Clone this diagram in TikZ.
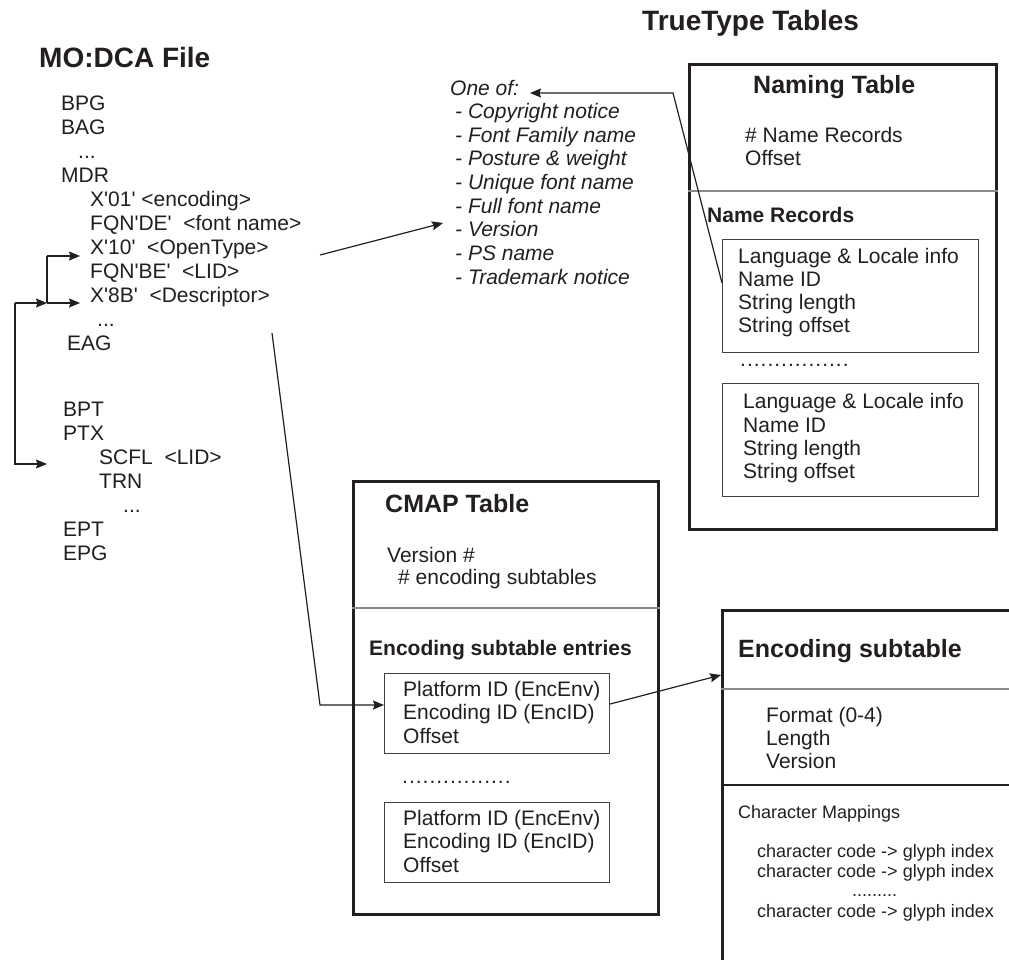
\documentclass[tikz,border=0pt]{standalone}
\usepackage{fontspec}
\newfontfamily\arial{Liberation Sans}
\usetikzlibrary{arrows.meta}
\definecolor{ink}{HTML}{231F20}
\definecolor{rule}{HTML}{8A8A8A}
\newcommand\spdot{.\kern1pt}
\newcommand\dotrow{\spdot\spdot\spdot\spdot\spdot\spdot\spdot\spdot\spdot\spdot\spdot\spdot\spdot\spdot\spdot.}
\begin{document}
\begin{tikzpicture}[x=1pt,y=-1pt,
  txt/.style={anchor=base west,inner sep=0pt,text=ink,font=\arial\fontsize{21}{25}\selectfont},
  ital/.style={txt,font=\arial\itshape\fontsize{21}{25}\selectfont},
  bigtitle/.style={txt,font=\arial\bfseries\fontsize{28}{32}\selectfont},
  tabtitle/.style={txt,font=\arial\bfseries\fontsize{25}{30}\selectfont},
  subhead/.style={txt,font=\arial\bfseries\fontsize{21}{25}\selectfont},
  smalltxt/.style={txt,font=\arial\fontsize{18}{21}\selectfont},
  outerbox/.style={draw=ink,line width=2.8pt,anchor=north west,inner sep=0pt},
  innerbox/.style={draw=ink!85,line width=1.1pt,anchor=north west,inner sep=0pt},
  divider/.style={draw=rule,line width=1.1pt},
  conn/.style={draw=ink,line width=1.2pt},
  arr/.style={conn,-{Stealth[length=11pt,width=9pt,inset=1.5pt]}}]
\useasboundingbox (0,0) rectangle (1009,959);
\fill[white] (0,0) rectangle (1009,959);
\clip (0,0) rectangle (1009,959);

% ---------------- MO:DCA file ----------------
\node[bigtitle] (t1) at (39,67) {MO:DCA File};
\node[txt] (bpg) at (61,110) {BPG};
\node[txt] (bag) at (61,134) {BAG};
\node[txt] (d1) at (78,158) {...};
\node[txt] (mdr) at (61,182) {MDR};
\node[txt] (x01) at (90,206) {X'01' <encoding>};
\node[txt] (fqnde) at (90,230) {FQN'DE'\ \ <font name>};
\node[txt] (x10) at (90,254) {X'10'\ \ <OpenType>};
\node[txt] (fqnbe) at (90,278) {FQN'BE'\ \ <LID>};
\node[txt] (x8b) at (90,302) {X'8B'\ \ <Descriptor>};
\node[txt] (d2) at (97,326) {...};
\node[txt] (eag) at (67,350) {EAG};
\node[txt] (bpt) at (63,416) {BPT};
\node[txt] (ptx) at (63,440) {PTX};
\node[txt] (scfl) at (99,464) {SCFL\ \ <LID>};
\node[txt] (trn) at (99,488) {TRN};
\node[txt] (d3) at (123,512) {...};
\node[txt] (ept) at (63,536) {EPT};
\node[txt] (epg) at (63,560) {EPG};

% ---------------- italic list ----------------
\node[ital] (oneof) at (450,95) {One of:};
\node[ital] (i1) at (455,118.6) {- Copyright notice};
\node[ital] (i2) at (455,142.3) {- Font Family name};
\node[ital] (i3) at (455,165.9) {- Posture \& weight};
\node[ital] (i4) at (455,189.5) {- Unique font name};
\node[ital] (i5) at (455,213) {- Full font name};
\node[ital] (i6) at (455,236.8) {- Version};
\node[ital] (i7) at (455,260.4) {- PS name};
\node[ital] (i8) at (455,284) {- Trademark notice};

\node[bigtitle] (t2) at (642,30) {TrueType Tables};

% ---------------- Naming table ----------------
\node[outerbox,minimum width=307pt,minimum height=465pt] (ntab) at (688,63) {};
\node[tabtitle] (ntitle) at (753,93) {Naming Table};
\node[txt] (nrecs) at (745,142) {\# Name Records};
\node[txt] (noff) at (745,165) {Offset};
\draw[divider] (ntab.west |- 0,191) -- (ntab.east |- 0,191);
\node[subhead] (nrhead) at (707,222) {Name Records};
\node[innerbox,minimum width=256pt,minimum height=113pt] (nrec1) at (722,239) {};
\node[txt] (a1) at (738,263) {Language \& Locale info};
\node[txt] (a2) at (738,286) {Name ID};
\node[txt] (a3) at (738,309) {String length};
\node[txt] (a4) at (738,332) {String offset};
\node[txt] (ndots) at (740,366) {\dotrow};
\node[innerbox,minimum width=256pt,minimum height=113pt] (nrec2) at (722,383) {};
\node[txt] (b1) at (743,408) {Language \& Locale info};
\node[txt] (b2) at (743,432) {Name ID};
\node[txt] (b3) at (743,455) {String length};
\node[txt] (b4) at (743,478) {String offset};

% ---------------- CMAP table ----------------
\node[outerbox,minimum width=305pt,minimum height=433pt] (cmap) at (352,480) {};
\node[tabtitle] (ctitle) at (385,512) {CMAP Table};
\node[txt] (cver) at (387,562) {Version \#};
\node[txt] (cnum) at (398,584) {\# encoding subtables};
\draw[divider] (cmap.west |- 0,608) -- (cmap.east |- 0,608);
\node[subhead] (chead) at (369,655) {Encoding subtable entries};
\node[innerbox,minimum width=225pt,minimum height=80pt] (cbox1) at (384,673) {};
\node[txt] (p1) at (403,696) {Platform ID (EncEnv)};
\node[txt] (p2) at (403,719) {Encoding ID (EncID)};
\node[txt] (p3) at (403,743) {Offset};
\node[txt] (cdots) at (402,783) {\dotrow};
\node[innerbox,minimum width=225pt,minimum height=80pt] (cbox2) at (384,802) {};
\node[txt] (q1) at (403,825) {Platform ID (EncEnv)};
\node[txt] (q2) at (403,848) {Encoding ID (EncID)};
\node[txt] (q3) at (403,872) {Offset};

% ---------------- Encoding subtable ----------------
\node[outerbox,minimum width=330pt,minimum height=400pt] (enc) at (721,609) {};
\node[tabtitle] (etitle) at (738,657) {Encoding subtable};
\draw[divider] (enc.west |- 0,689) -- (enc.east |- 0,689);
\node[txt] (e1) at (766,722) {Format (0-4)};
\node[txt] (e2) at (766,745) {Length};
\node[txt] (e3) at (766,768) {Version};
\draw[divider,draw=ink] (enc.west |- 0,785) -- (enc.east |- 0,785);
\node[smalltxt] (cm) at (738,818) {Character Mappings};
\node[smalltxt] (m1) at (757,857) {character code -> glyph index};
\node[smalltxt] (m2) at (757,877) {character code -> glyph index};
\node[smalltxt] (mdots) at (852,896) {.........};
\node[smalltxt] (m3) at (757,917) {character code -> glyph index};

% ---------------- connectors ----------------
\coordinate (lidtop) at (15,303);
\coordinate (lidbot) at (15,464);
\coordinate (lidmid) at (47,303);
\coordinate (lidup) at (47,256);
\draw[conn] (lidmid) -- (lidup);
\draw[arr] (lidtop) -- (lidmid);
\draw[arr] (lidmid) -- (80,303);
\draw[arr] (lidup) -- (80,256);
\draw[arr] (lidtop) -- (lidbot) -- (47,464);

\coordinate (mdrout) at (320,255);
\coordinate (listin) at (443,223);
\draw[arr] (mdrout) -- (listin);

\coordinate (nbend) at (673,93);
\draw[arr] (nrec1.west |- 0,283) -- (nbend) -- (530,93);

\coordinate (cstart) at (272,333);
\coordinate (cbend) at (320,705);
\draw[arr] (cstart) -- (cbend) -- (cbox1.west |- 0,705);

\draw[arr] (cbox1.east |- 0,704) -- (enc.west |- 0,675);
\end{tikzpicture}
\end{document}
